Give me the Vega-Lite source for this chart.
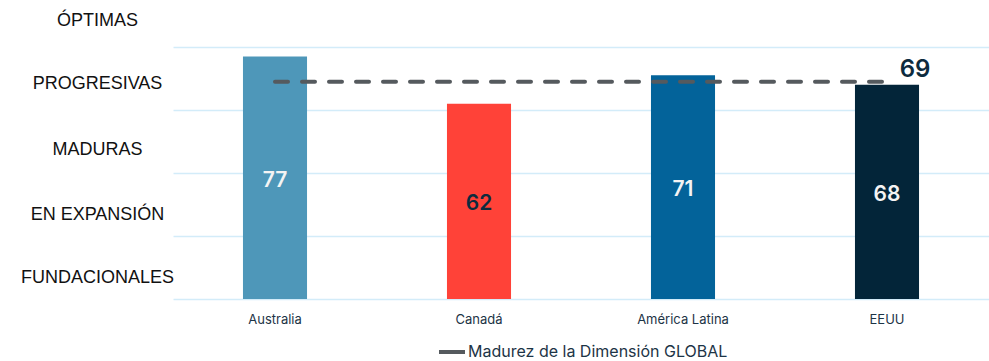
{
  "$schema": "https://vega.github.io/schema/vega-lite/v6.json",
  "width": 816,
  "height": 252,
  "autosize": {"type": "none"},
  "padding": {"left": 173, "top": 47, "right": 0, "bottom": 62},
  "background": "white",
  "config": {"view": {"stroke": null}},
  "data": {
    "values": [
      {"pais": "Australia", "valor": 77, "global": 69},
      {"pais": "Canadá", "valor": 62, "global": 69},
      {"pais": "América Latina", "valor": 71, "global": 69},
      {"pais": "EEUU", "valor": 68, "global": 69}
    ]
  },
  "encoding": {
    "x": {
      "field": "pais",
      "type": "nominal",
      "sort": null,
      "scale": {"paddingInner": 0, "paddingOuter": 0},
      "axis": {
        "title": null,
        "labelAngle": 0,
        "ticks": false,
        "domain": false,
        "labelFont": "Inter",
        "labelFontSize": 13,
        "labelColor": "#1d3446",
        "labelPadding": 14
      }
    }
  },
  "layer": [
    {
      "mark": {"type": "bar", "width": {"band": 0.314}},
      "encoding": {
        "y": {
          "field": "valor",
          "type": "quantitative",
          "scale": {"domain": [0, 80], "nice": false},
          "axis": {
            "title": null,
            "values": [0, 20, 40, 60, 80],
            "labelExpr": "datum.value == 0 ? 'FUNDACIONALES' : datum.value == 20 ? 'EN EXPANSIÓN' : datum.value == 40 ? 'MADURAS' : datum.value == 60 ? 'PROGRESIVAS' : 'ÓPTIMAS'",
            "ticks": false,
            "domain": false,
            "grid": true,
            "gridColor": "#d3ecf9",
            "gridWidth": 1.5,
            "labelFont": "Liberation Sans",
            "labelFontSize": 18,
            "labelColor": "#111111",
            "labelAlign": "center",
            "labelBaseline": "middle",
            "labelPadding": 76,
            "labelBound": false,
            "labelFlush": false,
            "labelOverlap": false,
            "labelOffset": {
              "condition": [
                {"test": "datum.value >= 60", "value": -26.5},
                {"test": "datum.value == 40", "value": -24}
              ],
              "value": -21.5
            }
          }
        },
        "color": {
          "field": "pais",
          "type": "nominal",
          "sort": null,
          "scale": {
            "domain": ["Australia", "Canadá", "América Latina", "EEUU"],
            "range": ["#4e97b9", "#ff4238", "#03639a", "#032539"]
          },
          "legend": null
        }
      }
    },
    {
      "mark": {
        "type": "text",
        "font": "Inter",
        "fontSize": 21,
        "fontWeight": 600,
        "baseline": "middle",
        "align": "center",
        "dy": 3
      },
      "transform": [{"calculate": "datum.valor / 2", "as": "mitad"}],
      "encoding": {
        "y": {"field": "mitad", "type": "quantitative"},
        "text": {"field": "valor", "type": "quantitative"},
        "color": {
          "condition": {"test": "datum.pais == 'Canadá'", "value": "#0d2b3e"},
          "value": "#f4f4f4"
        }
      }
    },
    {
      "mark": {
        "type": "line",
        "strokeWidth": 4,
        "strokeDash": [13, 14],
        "strokeCap": "round"
      },
      "encoding": {
        "y": {"field": "global", "type": "quantitative"},
        "color": {
          "datum": "Madurez de la Dimensión GLOBAL",
          "scale": {"range": ["#555a5e"]},
          "legend": {
            "title": null,
            "orient": "none",
            "legendX": 264,
            "legendY": 290,
            "symbolType": "stroke",
            "symbolStrokeWidth": 4,
            "symbolSize": 676,
            "symbolDash": [],
            "labelFont": "Inter",
            "labelFontSize": 16,
            "labelLimit": 500,
            "labelColor": "#1d3446",
            "labelOffset": 1
          }
        }
      }
    },
    {
      "transform": [{"filter": "datum.pais == 'EEUU'"}],
      "mark": {
        "type": "text",
        "font": "Inter",
        "fontSize": 24,
        "fontWeight": 600,
        "align": "center",
        "baseline": "middle",
        "dx": 28,
        "dy": -12,
        "color": "#0d2b3e"
      },
      "encoding": {
        "y": {"field": "global", "type": "quantitative"},
        "text": {"field": "global", "type": "quantitative"}
      }
    }
  ],
  "resolve": {"scale": {"color": "independent"}}
}
